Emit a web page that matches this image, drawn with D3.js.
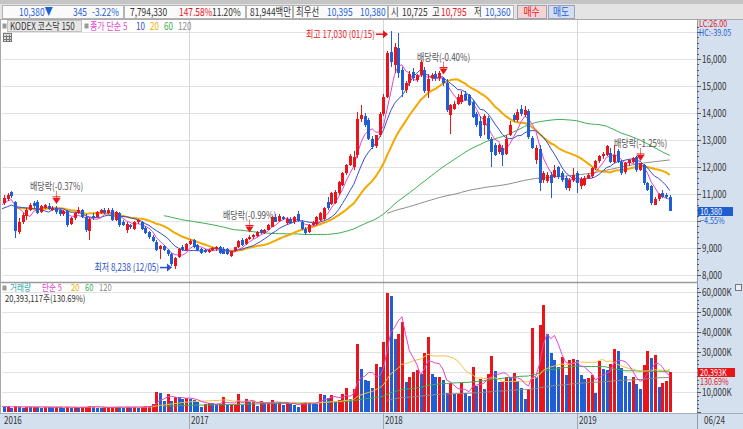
<!DOCTYPE html>
<html>
<head>
<meta charset="utf-8">
<script src="https://cdn.jsdelivr.net/npm/d3@7"></script>
<style>
  body { margin: 0; background: #fff; overflow: hidden; }
  svg { display: block; font-family: "Noto Sans CJK KR", "Noto Sans", sans-serif; font-size: 10px; }
</style>
</head>
<body>
<svg id="chart" width="743" height="429"></svg>
<script>
// weekly closes/volumes before the visible range (needed for the moving averages)
const histClose = [10150, 10450, 10600, 10700, 10800, 10550, 10300, 10450, 10350, 10200, 10150, 10400, 10550, 10650, 10720, 10500];
const histVolume = [6000, 3500, 3100, 2900, 2700, 3000, 3200, 2800, 2600, 2500, 2700, 2400, 2600, 3000, 3200, 2900];

// 2016-01-18 .. 2019-06-24, weekly
const open = [
  10660, 10800, 11075, 10700, 9600, 9980, 10200, 10420, 10660, 10720,
  10330, 10500, 10560, 10420, 10500, 10420, 10250, 10380, 9900, 10100,
  10280, 10400, 10160, 9620, 10200, 10150, 10300, 10420, 10300, 10420,
  10050, 10300, 9950, 9680, 9850, 9720, 9950, 9950, 9740, 9580,
  9420, 9240, 8950, 9060, 8920, 8760, 8350, 8650, 9020, 8940,
  9150, 9280, 9120, 8950, 8920, 8860, 8920, 8960, 9020, 8950,
  8960, 8720, 8880, 9020, 9300, 9150, 9330, 9400, 9460, 9660,
  9560, 9680, 9780, 10150, 10000, 10150, 9920, 10090, 9950, 10250,
  9980, 9700, 9580, 9860, 9900, 10050, 10080, 10700, 10620, 10680,
  11020, 11350, 11780, 12090, 12000, 12430, 13760, 13900, 13750, 13050,
  12760, 13170, 13980, 14600, 16270, 15780, 16420, 15600, 14850, 15100,
  15520, 15220, 15400, 15600, 14800, 15280, 15430, 15290, 15300, 15100,
  13920, 14160, 14350, 14410, 14720, 14660, 14410, 13980, 13700, 13550,
  13800, 13050, 12800, 12550, 12700, 12500, 13200, 13920, 13730, 14160,
  13920, 14060, 13070, 12250, 12650, 11520, 11500, 11700, 11640, 11990,
  11760, 11580, 11210, 11520, 11770, 11280, 11340, 11600, 11650, 11960,
  12210, 12390, 12450, 12510, 12200, 12580, 12200, 11830, 12140, 12200,
  12380, 11890, 12080, 11400, 11280, 10600, 10830, 11020, 10950, 10900
];
const high = [
  10950, 11050, 11120, 10750, 10100, 10300, 10500, 10680, 10750, 10780,
  10600, 10620, 10650, 10560, 10560, 10450, 10420, 10420, 10150, 10330,
  10520, 10450, 10250, 10150, 10300, 10380, 10450, 10480, 10470, 10480,
  10380, 10350, 10050, 9960, 9900, 10000, 10080, 10000, 9800, 9620,
  9480, 9280, 9100, 9100, 8960, 8800, 8680, 9000, 9100, 9200,
  9320, 9350, 9150, 9000, 8960, 8950, 9050, 9080, 9080, 9050,
  9000, 8900, 9050, 9280, 9380, 9380, 9500, 9520, 9640, 9720,
  9720, 9880, 10200, 10250, 10250, 10200, 10150, 10150, 10200, 10380,
  10020, 9760, 9880, 10000, 10180, 10320, 10520, 10900, 11080, 11150,
  11500, 11820, 12100, 12500, 12600, 14050, 14300, 14000, 13800, 13150,
  13200, 14050, 14700, 16300, 17030, 16600, 16980, 15700, 15200, 15550,
  15650, 15450, 15950, 15700, 15450, 15500, 15550, 15550, 15350, 15250,
  14350, 14450, 14700, 14800, 14800, 14700, 14500, 14050, 13900, 13950,
  13900, 13100, 12900, 12850, 12800, 13200, 13700, 14000, 14150, 14300,
  14250, 14150, 13150, 12800, 12800, 11850, 11800, 11800, 12080, 12050,
  11850, 11650, 11600, 11950, 11850, 11620, 11650, 11780, 12000, 12250,
  12450, 12550, 12820, 12700, 12820, 12650, 12250, 12200, 12300, 12380,
  12420, 12150, 12120, 11450, 11320, 10900, 11050, 11150, 11050, 10950
];
const low = [
  10600, 10750, 10850, 9380, 9520, 9900, 10050, 10380, 10500, 10250,
  10300, 10450, 10400, 10380, 10270, 10200, 10200, 9780, 9850, 10050,
  10250, 10120, 9600, 9280, 10050, 10100, 10250, 10250, 10250, 10000,
  10000, 9780, 9820, 9560, 9700, 9650, 9880, 9680, 9520, 9350,
  9220, 8880, 8600, 8880, 8700, 8350, 8238, 8620, 8900, 8900,
  9100, 9000, 8880, 8780, 8800, 8800, 8880, 8900, 8780, 8760,
  8740, 8660, 8850, 9000, 9080, 9120, 9280, 9350, 9420, 9520,
  9520, 9650, 9760, 9950, 9950, 10050, 9870, 9880, 9900, 9960,
  9680, 9500, 9540, 9820, 9870, 10000, 10050, 10420, 10600, 10640,
  10980, 11300, 11700, 12050, 11900, 12350, 13650, 13500, 13000, 12650,
  12700, 13100, 13900, 14550, 15700, 15500, 15300, 14600, 14750, 15000,
  15200, 15150, 15350, 14750, 14550, 15200, 15200, 15200, 15000, 14050,
  13235, 14100, 14300, 14350, 14450, 14250, 13800, 13500, 13080, 13200,
  13000, 12000, 12400, 12500, 12050, 12450, 13150, 13650, 13650, 13900,
  13850, 13050, 12650, 12100, 11100, 11400, 11400, 10850, 11600, 11550,
  11450, 11150, 11100, 11450, 11020, 11200, 11300, 11550, 11600, 11900,
  12150, 12300, 12400, 12150, 12150, 12150, 11700, 11750, 12050, 12150,
  11800, 11850, 11350, 11100, 10600, 10580, 10750, 10850, 10800, 10360
];
const close = [
  10850, 10975, 10910, 9620, 9980, 10230, 10420, 10600, 10560, 10300,
  10540, 10580, 10450, 10500, 10320, 10250, 10380, 9850, 10100, 10280,
  10420, 10160, 9650, 10080, 10100, 10330, 10400, 10300, 10420, 10050,
  10330, 9850, 9870, 9900, 9760, 9950, 10030, 9720, 9560, 9420,
  9260, 8920, 9060, 8920, 8760, 8420, 8620, 8960, 8940, 9150,
  9260, 9040, 8920, 8820, 8850, 8910, 9000, 9050, 8820, 8780,
  8770, 8880, 9020, 9250, 9120, 9340, 9420, 9470, 9600, 9560,
  9680, 9840, 10150, 9980, 10200, 10080, 10080, 9920, 10150, 10000,
  9720, 9560, 9850, 9930, 10150, 10280, 10480, 10480, 11020, 11080,
  11460, 11780, 12080, 12400, 12380, 13790, 13920, 13550, 13050, 12740,
  13170, 13980, 14600, 16210, 15900, 16460, 15500, 14850, 15100, 15460,
  15280, 15400, 15900, 14800, 15250, 15420, 15300, 15470, 15100, 14100,
  14290, 14350, 14600, 14660, 14480, 14290, 13850, 13550, 13150, 13900,
  13050, 12550, 12450, 12800, 12450, 13050, 13550, 13730, 14040, 13980,
  14100, 13100, 12700, 12700, 11400, 11770, 11700, 11400, 11890, 11640,
  11520, 11210, 11520, 11700, 11400, 11560, 11600, 11720, 11960, 12210,
  12390, 12480, 12760, 12200, 12450, 12200, 11760, 12140, 12260, 12330,
  11880, 12140, 11400, 11150, 10660, 10830, 11000, 10900, 10875, 10380
];
// thousand shares
const volume = [
  2600, 2900, 2200, 3300, 2700, 2300, 2800, 2500, 2900, 2700,
  2400, 2700, 2600, 2500, 2800, 2600, 2300, 2700, 2400, 2500,
  2300, 2600, 2900, 3300, 2700, 2400, 2200, 2500, 2600, 2700,
  2800, 2500, 2300, 2900, 2600, 2800, 2400, 2700, 3000, 3400,
  4200, 10200, 9800, 5500, 9000, 5800, 7800, 7500, 6900, 7000,
  6500, 6200, 5000, 2800, 4200, 4500, 4500, 4200, 4300, 7800,
  3700, 3800, 3900, 9200, 3700, 6500, 5200, 5500, 3000, 5500,
  4500, 5000, 6000, 4500, 5200, 3500, 5000, 4200, 3800, 2800,
  4600, 5300, 4500, 4200, 4200, 9000, 8700, 7300, 8700, 5800,
  6200, 9200, 12300, 6500, 11700, 34000, 21700, 16200, 15700, 12000,
  24200, 22500, 35000, 59800, 58300, 36500, 39000, 45300, 15000, 17800,
  20300, 21200, 19200, 29800, 37500, 19200, 17500, 17800, 16200, 9800,
  14800, 9200, 9300, 14500, 9800, 8200, 22500, 13200, 16500, 11700,
  19000, 28200, 20800, 15300, 15400, 17800, 17700, 19800, 15700, 12000,
  6700, 11500, 42000, 17800, 43800, 53800, 39000, 29700, 26000, 22800,
  27800, 18700, 26000, 26600, 26300, 18500, 16500, 17000, 18700, 9800,
  25700, 21500, 21400, 24000, 31700, 30700, 22000, 18200, 15300, 17800,
  14200, 11700, 23500, 30500, 27000, 28700, 12500, 14800, 15604, 20393
];

const priceTicks = [8000, 9000, 10000, 11000, 12000, 13000, 14000, 15000, 16000, 17000];
const volumeTicks = [10000, 20000, 30000, 40000, 50000, 60000];
const yearTicks = ["2016", "2017", "2018", "2019"];
const dividendWeeks = ["2016-04-25", "2017-04-24", "2018-04-23", "2019-04-29"];
const dividendLabels = ["배당락(-0.37%)", "배당락(-0.99%)", "배당락(-0.40%)", "배당락(-1.25%)"];

const W = 743, H = 429,
    plotL = 2, plotR = 697,
    priceTop = 20, priceBot = 282,
    volTop = 283, volBot = 413;

const red = "#e8161b", blue = "#1f5fd3", dark = "#333";
const maColors = { 5: "#e444cf", 10: "#3350cc", 20: "#f2a900", 60: "#3aae52", 120: "#8c8c8c" };

const parse = d3.timeParse("%Y-%m-%d");
const weeks = d3.timeMonday.range(new Date(2015, 8, 28), new Date(2019, 5, 25));
const nHist = histClose.length;

const closeAll = histClose.concat(close);
const volumeAll = histVolume.concat(volume);

const candles = close.map((c, i) => ({
    date: weeks[nHist + i], o: open[i], h: high[i], l: low[i], c: c, v: volume[i],
    vUp: volumeAll[nHist + i] > volumeAll[nHist + i - 1]
}));

function sma(values, n) {
    return values.map((v, i) => i < n - 1 ? null : d3.mean(values.slice(i - n + 1, i + 1)));
}

const x = d3.scaleTime()
    .domain([new Date(2016, 0, 4), new Date(2019, 5, 24)])
    .range([-3.5, 669.8]);
const yPrice = d3.scaleLinear().domain([8000, 16000]).range([275, 59]);
const yVol = d3.scaleLinear().domain([0, 60000]).range([412.3, 292.3]);

const svg = d3.select("#chart");
const defs = svg.append("defs");
defs.append("clipPath").attr("id", "clipPrice").append("rect")
    .attr("x", plotL).attr("y", priceTop).attr("width", plotR - plotL).attr("height", priceBot - priceTop);
defs.append("clipPath").attr("id", "clipVol").append("rect")
    .attr("x", plotL).attr("y", volTop).attr("width", plotR - plotL).attr("height", volBot - volTop);

// ---- toolbar
svg.append("rect").attr("width", W).attr("height", 20).attr("fill", "#e4e4e4");
svg.append("rect").attr("width", W).attr("height", 4).attr("fill", "#c4c4c4");
const boxes = [[2, 124], [124, 246], [246, 293], [293, 388], [388, 514]];
boxes.forEach(b => {
    svg.append("rect").attr("x", b[0] + 0.5).attr("y", 5.5).attr("width", b[1] - b[0] - 1).attr("height", 13)
        .attr("fill", "#fafafa").attr("stroke", "#b4b4b4");
});
const toolbarText = [
    ["10,380▼", 19, blue], ["345", 73, blue], ["-3.22%", 92, blue],
    ["7,794,330", 130, dark], ["147.58%", 179, red], ["11.20%", 212, dark],
    ["81,944백만", 250, dark], ["최우선", 296, dark], ["10,395", 327, blue], ["10,380", 360, blue],
    ["시", 391, dark], ["10,725", 402, dark], ["고", 432, dark], ["10,795", 441, red],
    ["저", 474, dark], ["10,360", 485, blue]
];
toolbarText.forEach(t => {
    svg.append("text").attr("class", "tb").attr("x", t[1]).attr("y", 15.5).attr("fill", t[2]).style("font-size", "11px").text(t[0]);
});
[["매수", 517, 546, "#f6d4d4", red], ["매도", 548, 574, "#d3def3", blue]].forEach(b => {
    svg.append("rect").attr("x", b[1] + 0.5).attr("y", 5.5).attr("width", b[2] - b[1]).attr("height", 13)
        .attr("fill", b[3]).attr("stroke", "#9aa4b4");
    svg.append("text").attr("x", (b[1] + b[2]) / 2).attr("y", 15.5).attr("text-anchor", "middle")
        .attr("fill", b[4]).style("font-size", "11px").text(b[0]);
});

// ---- panels
svg.append("rect").attr("x", 0).attr("y", 19).attr("width", W).attr("height", H - 19).attr("fill", "#fff");
svg.append("rect").attr("x", plotR).attr("y", 19).attr("width", W - plotR).attr("height", volBot - 19).attr("fill", "#d4e0ee");
svg.append("rect").attr("x", 0).attr("y", volBot).attr("width", W).attr("height", H - volBot).attr("fill", "#d4e0ee");

const grid = svg.append("g").attr("shape-rendering", "crispEdges");
priceTicks.forEach(v => {
    grid.append("line").attr("x1", plotL).attr("x2", plotR).attr("y1", Math.round(yPrice(v)) + 0.5).attr("y2", Math.round(yPrice(v)) + 0.5)
        .attr("stroke", "#e2e2e2");
});
volumeTicks.forEach(v => {
    grid.append("line").attr("x1", plotL).attr("x2", plotR).attr("y1", Math.round(yVol(v)) + 0.5).attr("y2", Math.round(yVol(v)) + 0.5)
        .attr("stroke", "#e2e2e2");
});
const yearX = yearTicks.map(y => x(new Date(+y, 0, 1)));
yearX.slice(1).forEach(px => {
    grid.append("line").attr("x1", Math.round(px) + 0.5).attr("x2", Math.round(px) + 0.5).attr("y1", priceTop).attr("y2", H)
        .attr("stroke", "#d6d6d6");
});

// borders
svg.append("line").attr("x1", 0).attr("x2", W).attr("y1", 19.5).attr("y2", 19.5).attr("stroke", "#a8a8a8");
svg.append("line").attr("x1", 0).attr("x2", plotR).attr("y1", priceBot + 0.5).attr("y2", priceBot + 0.5).attr("stroke", "#9a9a9a").attr("stroke-width", 1.5);
svg.append("line").attr("x1", 0.5).attr("x2", 0.5).attr("y1", 19).attr("y2", volBot).attr("stroke", "#a8a8a8");
svg.append("line").attr("x1", plotR + 0.5).attr("x2", plotR + 0.5).attr("y1", 19).attr("y2", H).attr("stroke", "#8e9bb0");
svg.append("line").attr("x1", 0).attr("x2", W).attr("y1", volBot + 0.5).attr("y2", volBot + 0.5).attr("stroke", "#a2acbc");

// ---- price panel
const gPrice = svg.append("g").attr("clip-path", "url(#clipPrice)");

[120, 60, 20, 10, 5].forEach(n => {
    const ma = sma(closeAll, n);
    const pts = weeks.map((d, i) => ({ d: d, v: ma[i] }));
    gPrice.append("path")
        .attr("fill", "none")
        .attr("stroke", maColors[n])
        .attr("stroke-width", n === 20 ? 2 : 1)
        .attr("d", d3.line().defined(p => p.v != null).x(p => x(p.d)).y(p => yPrice(p.v))(pts));
});

const candle = gPrice.selectAll("g.candle").data(candles).enter().append("g")
    .attr("class", "candle").attr("shape-rendering", "crispEdges");
candle.append("line")
    .attr("x1", d => Math.round(x(d.date)) + 0.5).attr("x2", d => Math.round(x(d.date)) + 0.5)
    .attr("y1", d => yPrice(d.h)).attr("y2", d => yPrice(d.l))
    .attr("stroke", d => d.c >= d.o ? red : blue);
candle.append("rect")
    .attr("x", d => Math.round(x(d.date)) - 1)
    .attr("width", 3)
    .attr("y", d => yPrice(Math.max(d.o, d.c)))
    .attr("height", d => Math.max(1, Math.abs(yPrice(d.o) - yPrice(d.c))))
    .attr("fill", d => d.c >= d.o ? red : blue);

// dividend markers
dividendWeeks.forEach((w, k) => {
    const d = candles.find(c => +c.date === +parse(w));
    const px = Math.round(x(d.date)) + 0.5, tip = yPrice(d.h) - 2;
    svg.append("line").attr("x1", px).attr("x2", px).attr("y1", tip - 13).attr("y2", tip - 5).attr("stroke", "#f07a7a");
    svg.append("path").attr("d", `M${px - 4},${tip - 6}L${px + 4},${tip - 6}L${px},${tip}Z`).attr("fill", red);
    svg.append("line").attr("x1", px - 4).attr("x2", px + 4).attr("y1", tip - 7).attr("y2", tip - 7).attr("stroke", red);
    svg.append("text").attr("x", px).attr("y", tip - 14).attr("text-anchor", "middle").attr("fill", "#555").text(dividendLabels[k]);
});

// high / low labels
const hi = candles[d3.maxIndex(candles, d => d.h)], lo = candles[d3.minIndex(candles, d => d.l)];
const fmt = d3.format(",");
const hiX = Math.round(x(hi.date)) - 3, hiY = yPrice(hi.h) + 3;
svg.append("text").attr("x", hiX - 13).attr("y", hiY + 3.5).attr("text-anchor", "end").attr("fill", red)
    .text(`최고 ${fmt(hi.h)} (${d3.timeFormat("%m/%d")(hi.date)})`);
svg.append("line").attr("x1", hiX - 12).attr("x2", hiX - 3).attr("y1", hiY).attr("y2", hiY).attr("stroke", red).attr("stroke-width", 1.5);
svg.append("path").attr("d", `M${hiX - 5},${hiY - 4}L${hiX},${hiY}L${hiX - 5},${hiY + 4}Z`).attr("fill", red);
const loX = Math.round(x(lo.date)) - 3, loY = yPrice(lo.l) - 1;
svg.append("text").attr("x", loX - 13).attr("y", loY + 3.5).attr("text-anchor", "end").attr("fill", "#2a4fd0")
    .text(`최저 ${fmt(lo.l)} (${d3.timeFormat("%m/%d")(lo.date)})`);
svg.append("line").attr("x1", loX - 12).attr("x2", loX - 3).attr("y1", loY).attr("y2", loY).attr("stroke", "#2a4fd0").attr("stroke-width", 1.5);
svg.append("path").attr("d", `M${loX - 5},${loY - 4}L${loX},${loY}L${loX - 5},${loY + 4}Z`).attr("fill", "#2a4fd0");

// legend
svg.append("rect").attr("x", 2.5).attr("y", 23.5).attr("width", 4).attr("height", 5).attr("fill", "#999");
svg.append("rect").attr("x", 7.5).attr("y", 20.5).attr("width", 74).attr("height", 11).attr("fill", "#e6e6e6").attr("stroke", "#c2c2c2");
svg.append("text").attr("x", 10).attr("y", 29.5).attr("fill", dark).text("KODEX 코스닥 150");
svg.append("rect").attr("x", 84.5).attr("y", 23.5).attr("width", 4).attr("height", 5).attr("fill", "#999");
[["종가 단순 5", 90, maColors[5]], ["10", 136, maColors[10]], ["20", 150, maColors[20]], ["60", 164, maColors[60]], ["120", 178, maColors[120]]]
    .forEach(t => svg.append("text").attr("x", t[1]).attr("y", 29.5).attr("fill", t[2]).text(t[0]));
const calc = svg.append("g").attr("transform", "translate(3,33)").attr("shape-rendering", "crispEdges");
calc.append("rect").attr("x", 0.5).attr("y", 0.5).attr("width", 8).attr("height", 8).attr("fill", "#ddd").attr("stroke", "#777");
[3, 6].forEach(v => {
    calc.append("line").attr("x1", v + 0.5).attr("x2", v + 0.5).attr("y1", 2).attr("y2", 9).attr("stroke", "#777");
    calc.append("line").attr("x1", 1).attr("x2", 9).attr("y1", v + 0.5).attr("y2", v + 0.5).attr("stroke", "#777");
});

// right price axis
const last = candles[candles.length - 1];
const prev = candles[candles.length - 2];
const axisG = svg.append("g").attr("shape-rendering", "crispEdges");
d3.range(8000, 17400, 200).forEach(v => {
    const yy = Math.round(yPrice(v)) + 0.5, major = v % 1000 === 0;
    axisG.append("line").attr("x1", plotR).attr("x2", plotR + (major ? 4 : 2)).attr("y1", yy).attr("y2", yy).attr("stroke", "#556");
});
priceTicks.filter(v => v <= 16000 && Math.abs(yPrice(v) - yPrice(last.c)) > 14).forEach(v => {
    svg.append("text").attr("x", plotR + 5).attr("y", yPrice(v) + 3.5).attr("fill", dark).text(fmt(v));
});
svg.append("text").attr("x", plotR + 2).attr("y", 27).attr("fill", red).style("font-size", "9px").text("LC:26.00");
svg.append("text").attr("x", plotR + 2).attr("y", 36).attr("fill", blue).style("font-size", "9px").text("HC:-39.05");
const pY = Math.round(yPrice(last.c));
svg.append("rect").attr("x", plotR + 1).attr("y", pY - 4).attr("width", 35).attr("height", 9).attr("fill", "#1e5ecf");
svg.append("text").attr("x", plotR + 3).attr("y", pY + 3.5).attr("fill", "#fff").style("font-size", "9px").text(fmt(last.c));
svg.append("text").attr("x", plotR + 3).attr("y", pY + 13).attr("fill", blue).style("font-size", "9px")
    .text(d3.format(".2f")((last.c / prev.c - 1) * 100) + "%");

// ---- volume panel
const gVol = svg.append("g").attr("clip-path", "url(#clipVol)");
gVol.selectAll("rect.vol").data(candles).enter().append("rect")
    .attr("class", "vol")
    .attr("shape-rendering", "crispEdges")
    .attr("x", d => Math.round(x(d.date)) - 1)
    .attr("width", 3)
    .attr("y", d => yVol(d.v))
    .attr("height", d => yVol(0) - yVol(d.v))
    .attr("fill", d => d.vUp ? red : blue);

[120, 60, 20, 5].forEach(n => {
    const ma = sma(volumeAll, n);
    const pts = weeks.map((d, i) => ({ d: d, v: ma[i] }));
    gVol.append("path")
        .attr("fill", "none")
        .attr("stroke", n === 20 ? "#f5c040" : maColors[n])
        .attr("stroke-width", 1)
        .attr("d", d3.line().defined(p => p.v != null).x(p => x(p.d)).y(p => yVol(p.v))(pts));
});

svg.append("rect").attr("x", 2.5).attr("y", 285.5).attr("width", 4).attr("height", 5).attr("fill", "#999");
[["거래량", 10, "#33a9a9"], ["단순 5", 42, maColors[5]], ["20", 71, maColors[20]], ["60", 85, maColors[60]], ["120", 99, maColors[120]]]
    .forEach(t => svg.append("text").attr("x", t[1]).attr("y", 291).attr("fill", t[2]).style("font-size", "9.5px").text(t[0]));
svg.append("text").attr("x", 5).attr("y", 301.5).attr("fill", dark).style("font-size", "9.5px").text("20,393,117주(130.69%)");

d3.range(0, 64000, 2000).forEach(v => {
    const yy = Math.round(yVol(v)) + 0.5, major = v % 10000 === 0;
    axisG.append("line").attr("x1", plotR).attr("x2", plotR + (major ? 4 : 2)).attr("y1", yy).attr("y2", yy).attr("stroke", "#556");
});
volumeTicks.filter(v => Math.abs(yVol(v) - yVol(last.v)) > 14).forEach(v => {
    svg.append("text").attr("x", plotR + 5).attr("y", yVol(v) + 3.5).attr("fill", dark).text(fmt(v) + "K");
});
const vY = Math.round(yVol(last.v));
svg.append("rect").attr("x", plotR + 1).attr("y", vY - 4).attr("width", 37).attr("height", 9).attr("fill", red);
svg.append("text").attr("x", plotR + 3).attr("y", vY + 3.5).attr("fill", "#fff").style("font-size", "9px").text(fmt(last.v) + "K");
svg.append("text").attr("x", plotR + 3).attr("y", vY + 13).attr("fill", red).style("font-size", "9px")
    .text(d3.format(".2f")(last.v / prev.v * 100) + "%");
svg.append("rect").attr("x", 735.5).attr("y", 284.5).attr("width", 6).attr("height", 6).attr("fill", "#eee").attr("stroke", "#777");

// ---- date strip
yearTicks.forEach((t, k) => {
    const px = Math.max(plotL, Math.round(yearX[k]));
    if (k > 0) svg.append("line").attr("x1", px + 0.5).attr("x2", px + 0.5).attr("y1", volBot).attr("y2", H).attr("stroke", "#a0a8b6");
    svg.append("text").attr("x", px + 2).attr("y", 424).attr("fill", dark).text(t);
});
svg.append("text").attr("x", plotR + 7).attr("y", 424).attr("fill", dark).text(d3.timeFormat("%m/%d")(last.date));

// the HTS font is narrow: squeeze every label horizontally
svg.selectAll("text").each(function() {
    const w = this.getComputedTextLength();
    const k = this.classList.contains("tb") ? 0.76 : 0.8;
    d3.select(this).attr("textLength", w * k).attr("lengthAdjust", "spacingAndGlyphs");
});
</script>
</body>
</html>
